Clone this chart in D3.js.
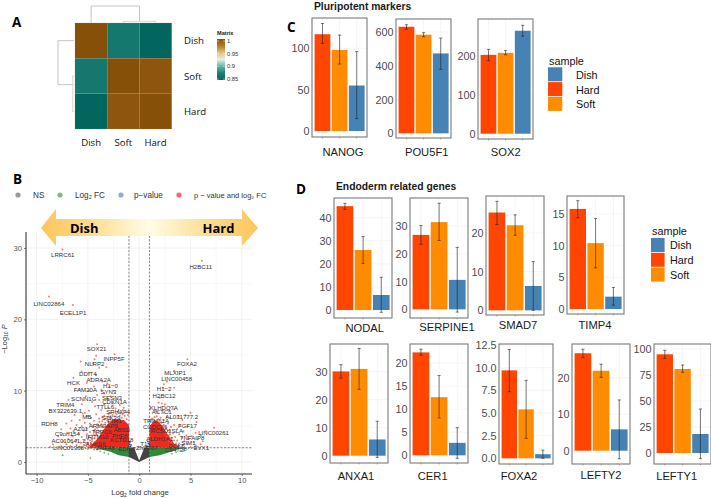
<!DOCTYPE html>
<html><head><meta charset="utf-8">
<style>html,body{margin:0;padding:0;background:#fff}svg{display:block}text{font-family:"Liberation Sans",Arial,sans-serif}</style>
<script src="https://cdnjs.cloudflare.com/ajax/libs/d3/7.8.5/d3.min.js"></script></head><body>
<svg id="c" width="711" height="498"></svg>
<script>
// ---------- DATA ----------
const heatLabels = ["Dish","Soft","Hard"];
const heatMatrix = [[1,0.868,0.85],[0.868,1,0.985],[0.85,0.985,1]];
const heatStops = [0.85,0.875,0.9,0.925,0.95,0.975,1];
const heatTicks = [1,0.95,0.9,0.85];

const samples = ["Hard","Soft","Dish"];
const legendSamples = ["Dish","Hard","Soft"];
const genes = ["NANOG","POU5F1","SOX2","NODAL","SERPINE1","SMAD7","TIMP4","ANXA1","CER1","FOXA2","LEFTY2","LEFTY1"];
const hardMean = [117,631,203,45,26.8,25.3,15.8,30.1,22.3,9.7,26.7,94.9];
const softMean = [98,584,208,26,31.4,22,10.4,31,12.6,5.4,21.9,80.8];
const dishMean = [55,473,265,6.5,10.6,6.3,1.95,5.8,2.7,0.45,5.85,18.3];
const hardLow = [106,616,188,43.6,23.4,22.2,14.4,27.7,21.7,7.35,25.5,91];
const hardHigh = [130,643,217,46.2,30.2,28.2,17.1,32.5,23,12,27.8,98.7];
const softLow = [81,572,203,20.2,24.8,19.4,6.5,23.7,8.1,2.2,20.1,77.6];
const softHigh = [116,596,214,31.8,38.2,24.7,14.3,38.3,17.3,8.6,23.7,84.6];
const dishLow = [15,379,251,-1,-1,0,0.6,-0.6,-0.65,0,-2.2,-5.4];
const dishHigh = [96,564,279,14.2,22.3,12.6,3.4,12.3,6,0.9,13.9,42.3];
const geneTicks = [[0,50,100],[0,200,400,600],[0,100,200],[0,10,20,30,40],[0,10,20,30],[0,10,20],[0,5,10,15],[0,10,20,30],[0,5,10,15,20],[0,2.5,5,7.5,10,12.5],[0,10,20],[0,25,50,75,100]];
const geneTickLabels = [null,null,null,null,null,null,null,null,null,["0.0","2.5","5.0","7.5","10.0","12.5"],null,null];

const volcanoXTicks = [-10,-5,0,5,10];
const volcanoYTicks = [0,10,20,30];
const redPoints = [[-7.47,29.8],[6.1,28.2],[-8.8,23.2],[-6.46,22],
[-4.1,16.5],[-4.2,14.9],[-2.4,15.1],[-5.7,14.1],[-4.35,14.4],[-4.5,13.8],[-3.9,13.2],[-3.2,13.3],[-5.6,12.7],[-4.9,12.5],[-6.4,11.8],[-4.2,12.2],[-4.7,11.7],[-3.6,11.3],[-5.1,11.1],[-3.1,11],[-2.9,10.5],[-4.4,10.6],[-5.8,10.2],[-3.7,10.1],[-2.5,10],[-4.9,10],[-3.4,9.6],[-4.1,9.4],[-2.8,9.2],[-5.2,9.2],[-3.1,8.9],[-3.9,8.7],[-2.2,8.8],[-4.6,8.4],[-2.6,8.2],[-3.4,8.1],[-6.9,8.7],[-5.6,8.1],[-1.9,8],[-4.3,7.8],[-3,7.6],[-2.3,7.5],[-3.7,7.3],[-4.9,7.2],[-1.6,7.3],[-5.3,6.9],[-2.8,6.9],[-6.3,6.6],[-4.2,6.7],[-3.4,6.5],[-5.1,6.4],[-5.5,6.8],[-4.7,6.2],[-3.9,6.1],[-2.9,6.2],[-6.6,5.8],[-5.8,5.9],[-4.4,5.8],[-3.6,5.7],[-7.1,5.4],[-5.3,5.5],[-4.8,5.4],[-4.1,5.3],[-3.3,5.5],[-6.1,5.2],[-5.6,5],[-4.5,5],[-3.9,4.9],[-7.6,4.6],[-6.7,4.7],[-5.1,4.7],[-4.3,4.6],[-6.4,4.3],[-5.4,4.4],[-4.8,4.2],[-3.8,4.3],[-7,4.1],[-5.9,4],[-5.1,3.9],[-4.4,3.8],[-7.9,3.6],[-6.5,3.6],[-5.6,3.5],[-4.9,3.5],[-6.9,3.2],[-6.1,3.1],[-5.3,3.1],[-4.6,3.2],[-7.4,2.9],[-6.5,2.7],[-5.7,2.7],[-5,2.7],[-8.4,2.5],[-7.1,2.5],[-6.1,2.4],[-5.4,2.4],[-4.7,2.5],[-8.7,2.1],[-7.6,2.2],[-6.7,2.2],[-5.8,2.15],[-5.1,2.2],[-4.4,2.2],
[-1.4,6.5],[-1.8,6.8],[-2.1,7],[-2.6,6.6],[-1.2,6],[-3.1,5.8],[-2.4,6.4],[-1.7,6.2],[-3.5,5],[-3,5.6],[-4,4.4],[-3.6,4.9],[-4.2,3.9],[-4.1,3.8],[-4.4,3.3],[-4.8,3],[-5,2.5],
[-1.1,6.6],[-1.3,7],[-1.6,6.7],[-1.9,6.5],[-2.2,6.7],[-2.5,6.9],[-2.8,6.4],[-3.2,6.1],[-3.4,6.0],[-3.7,5.3],[-3.9,5.6],[-4.1,4.8],[-4.3,4.2],[-4.6,3.7],[-4.7,3.4],[-3,6.7],[-2,7.3],[-1.5,7.6],[-3.6,6.3],[-4,5.2],[-3.3,5.2],[-4.4,4.4],[-5,3.2],[-5.2,2.7],[-5.3,2.3],[-4.9,2.2],[-4.6,2.9],[-4.3,2.8],
[4.7,14.4],[3.4,12.8],[2.7,11.3],[2.4,10.9],[2.3,10.4],[3.4,10.4],[2,9],[1.9,8.3],[2.2,8.2],[2.5,8.1],[3,7.6],[3.4,7.4],[2.9,7.1],[1.6,7.2],[1.8,7],[2.4,6.9],[5,6.9],[4.5,6.6],[3.8,6.5],[4.2,5.9],[3,6.2],[2.7,6.3],[5.6,5.6],[4,5.2],[3.4,5.2],[4.7,5],[3.1,4.9],[7.3,4.8],[3.7,4.6],[6.5,4.3],[4.3,4.3],[5.5,4.1],[3,4.4],[2.8,5.4],[3.3,4],[3.9,3.9],[4.6,3.7],[5.1,3.6],[6,3.8],[2.9,3.7],[3.5,3.5],[4.2,3.4],[4.8,3.2],[5.7,3.2],[6.2,2.9],[3,3.2],[3.7,3],[4.4,2.9],[5.3,2.8],[6,2.5],[3.1,2.7],[3.9,2.6],[4.7,2.5],[5.5,2.3],[3.3,2.3],[4.2,2.2],[5,2.1],[2.9,2.4],[2.6,3],[2.6,4.1],[2.4,5.9],[2.1,6.2],[1.5,6.3],[1.2,6],
[1.1,5.7],[1.3,6.1],[1.7,6.4],[1.9,6],[2.2,5.5],[2.4,5.2],[2.6,4.8],[2.8,4.4],[3,3.9],[3.2,3.4],[3.4,3],[3.6,2.6],[3.8,2.3],[2.7,3.6],[2.9,2.9],[3.2,2.9],[3.6,2.1]];
const bluePoints = [[-1,2.2],[-0.95,2.5],[-0.85,2.15],[-0.9,2.8],[-0.8,2.4],[-1,2.9],[0.8,2.2],[0.9,2.6],[0.95,2.2],[0.85,2.9],[1,2.5],[0.75,2.1]];
const greenPoints = [[-7.45,0.95],[-4.75,0.55],[-5.2,1.9],[-5.6,1.95],[-5,1.8],[-4.7,1.9],[-4.4,1.75],[-4.1,1.7],[-3.8,1.5],[-3.4,1.3],[-3,1.1],[-4.9,1.95],[3.6,1.35],[4,1.55],[4.4,1.8],[4.8,1.9],[5.1,1.95],[3.2,1.15],[5.5,1.95]];
const redCoreLeft = [[-1,2],[-1,5.2],[-1.5,5.9],[-2.5,6],[-3.1,5.3],[-3.5,4.5],[-4,3.4],[-4.5,2.6],[-5,2]];
const redCoreRight = [[1,2],[1,5],[1.5,5.9],[2,5.5],[2.5,4.5],[3,3.4],[3.4,2.6],[4,2]];
const greenBandLeft = [[-1,2],[-5,2],[-4,1.85],[-2.8,1.45],[-2,0.95],[-1,0.7]];
const greenBandRight = [[1,2],[4.8,2],[4,1.85],[3,1.4],[2,0.95],[1,0.7]];
const greyWedge = [[-1,2],[-1,0.7],[0,0],[1,0.7],[1,2],[0.5,2],[0,0.2],[-0.5,2]];
const volcanoLabels = [["LRRC61",-7.45,29],["H2BC11",6,27.3],["LINC02864",-8.8,22.2],["ECEL1P1",-6.45,20.9],
["SOX21",-4.15,15.9],["INPP5F",-2.45,14.4],["NLRP2",-4.35,13.7],["DDIT4",-5,12.3],["ADRA2A",-3.95,11.5],["HCK",-6.4,11.1],["H1−0",-2.8,10.6],["FAM20A",-5.25,10.1],["SYN3",-3,9.8],["SCNN1G",-5.4,8.9],["SESN3",-2.65,9],["CDKN1A",-2.4,8.4],["TTLL6",-3.3,7.7],["TRIM4",-7.2,8],["BX322639.1",-7.2,7.2],["SPHAF4",-2.05,6.95],["MB",-5.1,6.25],["STK39",-2.75,6.2],["PIM1",-2.4,5.7],["ARHGAP9",-3.5,5],["AZ01",-5.7,4.6],["RDH8",-8.75,5.3],["C9orf154",-7,3.95],["TRPC6",-3.65,4.2],["ABSD",-1.7,4.5],["PHF8",-1.9,3.6],["IFITM10",-4.1,3.5],["KCTD18",-1.7,3.1],["AC010641.1",-6.9,2.95],["LINC01368",-6.9,2],["ANKS6",-4.25,2.5],["ZNF48",-3.3,1.95],["EDIL3",-1.2,1.85],["ZNF707",0.75,1.9],["T1",0.45,2.5],["ALDH1A1",2,3.2],["FOXA2",4.65,13.8],["MLXIP1",3.5,12.5],["LINC00458",3.65,11.7],["H1−2",2.43,10.3],["H2BC12",2.43,9.2],["KLHDC7A",2.4,7.6],["ACTC1",2.2,7],["AL031777.2",4.15,6.3],["TRIM61A",1.65,5.7],["FGF17",4.7,5],["CCDC86",1.55,4.95],["LINC00261",7.25,4.1],["RCSD1SLA",2.7,4.35],["TNFAIP8",5.15,3.4],["SIM1",4.8,2.7],["EVX1",6.05,2],["DOK5",3.65,2.2],["C9473P",3.6,1.65]];
const volcanoLegend = ["NS","Log₂ FC","p−value","p − value and log₂ FC"];

// ---------- LAYOUT ----------
const svg = d3.select("#c");
const colHard="#ff4500", colSoft="#ff8c00", colDish="#4682b4";
const sampleColor = d3.scaleOrdinal().domain(samples).range([colHard,colSoft,colDish]);
const boxes = [[312,367,18,137],[396,451,19,138],[478,533,19,139],[334,392,198,318],[410,468,198,318],[486,544,196,315],[567,624,196,314],[330,388,344,463],[410,468,344,463],[499,553,344,464],[572,630,344,464],[654,711,344,464]];
// [pixel of zero, value of reference tick, pixel of reference tick]
const yRefs = [[131,100,48.3],[133.3,600,32],[133.7,200,56],[310,40,217.7],[309.3,30,226],[310.3,20,233],[309,15,214],[455.7,30,371.7],[455.3,20,363],[458.3,12.5,345],[450.7,20,377.7],[453,100,349]];
const labelX = [343,426.7,505.7,364.7,447,518,595,356,432.7,519,601,676.7];
const labelY = [155.5,155.5,155.5,331.5,330.5,329,329,480,480,480,479,480];

// ---------- HEATMAP ----------
const hmX = d3.scaleBand().domain(heatLabels).range([75,171.7]);
const hmY = d3.scaleBand().domain(heatLabels).range([23,129]);
const hmColor = d3.scaleLinear().domain(heatStops).range(["#01665e","#1c7f75","#5fb3a8","#e8f1e8","#dfc27d","#b27a25","#8c510a"]);
const hmColorCell = v => v>=0.98? d3.interpolateRgb("#8f5710","#875009")((v-0.98)/0.02) : hmColor(v);
heatLabels.forEach((r,i)=>heatLabels.forEach((c,j)=>{
  svg.append("rect").attr("x",hmX(c)).attr("y",hmY(r)).attr("width",hmX.bandwidth()).attr("height",hmY.bandwidth())
    .attr("fill",hmColorCell(heatMatrix[i][j])).attr("stroke","#a08a68").attr("stroke-opacity",.35).attr("stroke-width",.6);
}));
heatLabels.forEach(l=>{
  svg.append("text").attr("x",184).attr("y",hmY(l)+hmY.bandwidth()/2+3.5).text(l).style("font-family","'Open Sans'").style("font-size","9.6px").attr("fill","#111");
  svg.append("text").attr("x",hmX(l)+hmX.bandwidth()/2).attr("y",146).attr("text-anchor","middle").text(l).style("font-family","'Open Sans'").style("font-size","9.6px").attr("fill","#111");
});
const dendro = d3.scaleLinear().domain([0,1]).range([23,6]);
const dendroL = d3.scaleLinear().domain([0,1]).range([74,58]);
const cx = l=>hmX(l)+hmX.bandwidth()/2, cy = l=>hmY(l)+hmY.bandwidth()/2;
const dn = svg.append("g").attr("fill","none").attr("stroke","#c4c4c4").attr("stroke-width",1);
dn.append("path").attr("d",`M${cx("Dish")},${dendro(0)}V${dendro(1)}H${(cx("Soft")+cx("Hard"))/2}V${dendro(.1)}`);
dn.append("path").attr("stroke","#dcdcdc").attr("stroke-width",1.2).attr("d",`M${cx("Soft")},${dendro(0)}V${dendro(.1)}H${cx("Hard")}V${dendro(0)}`);
dn.append("path").attr("d",`M${dendroL(0)},${cy("Dish")}H${dendroL(1)}V${(cy("Soft")+cy("Hard"))/2-9}H${dendroL(0)}`);
dn.append("path").attr("stroke","#dcdcdc").attr("stroke-width",1.2).attr("d",`M${dendroL(0)},${cy("Soft")}H${dendroL(.08)}V${cy("Hard")}H${dendroL(0)}`);
// colour bar
const defs = svg.append("defs");
const grad = defs.append("linearGradient").attr("id","hmg").attr("x1",0).attr("x2",0).attr("y1",1).attr("y2",0);
heatStops.forEach(v=>grad.append("stop").attr("offset",(v-.85)/.15).attr("stop-color",hmColor(v)));
svg.append("rect").attr("x",217).attr("y",39).attr("width",8).attr("height",41).attr("fill","url(#hmg)");
svg.append("text").attr("x",217).attr("y",35).text("Matrix").style("font-size","5.6px").style("font-weight","bold").attr("fill","#222");
const hmLeg = d3.scaleLinear().domain([.85,1]).range([79,41]);
heatTicks.forEach(t=>{
  svg.append("text").attr("x",227).attr("y",hmLeg(t)+2).text(t).style("font-size","5.8px").attr("fill","#333");
  svg.append("line").attr("x1",217).attr("x2",219).attr("y1",hmLeg(t)).attr("y2",hmLeg(t)).attr("stroke","#fff").attr("stroke-width",.5);
  svg.append("line").attr("x1",223).attr("x2",225).attr("y1",hmLeg(t)).attr("y2",hmLeg(t)).attr("stroke","#fff").attr("stroke-width",.5);
});

// ---------- PANEL LETTERS / TITLES ----------
[["A",12,27],["B",13,184],["C",287,32],["D",296,194]].forEach(([t,x,y])=>
  svg.append("text").attr("x",x).attr("y",y).text(t).style("font-family","'Open Sans'").style("font-weight","bold").style("font-size","13.5px").attr("fill","#000"));
svg.append("text").attr("x",314).attr("y",9.5).text("Pluripotent markers").style("font-weight","bold").style("font-size","10.3px").attr("fill","#1a1a1a");
svg.append("text").attr("x",336).attr("y",190).text("Endoderm related genes").style("font-weight","bold").style("font-size","10.3px").attr("fill","#1a1a1a");

// ---------- BAR PANELS ----------
genes.forEach((g,i)=>{
  const [x0,x1,y0,y1] = boxes[i], [z,rv,rp] = yRefs[i];
  const x = d3.scaleBand().domain(samples).range([x0+2.6,x1-2.4]).paddingInner(.08).paddingOuter(0);
  const y = d3.scaleLinear().domain([0,rv]).range([z,rp]);
  const p = svg.append("g");
  geneTicks[i].forEach(t=>{ if(y(t)>y0&&y(t)<y1) p.append("line").attr("x1",x0).attr("x2",x1).attr("y1",y(t)).attr("y2",y(t)).attr("stroke","#f0f0f0").attr("stroke-width",.7); });
  samples.forEach(s=>p.append("line").attr("x1",x(s)+x.bandwidth()/2).attr("x2",x(s)+x.bandwidth()/2).attr("y1",y0).attr("y2",y1).attr("stroke","#f0f0f0").attr("stroke-width",.7));
  const means=[hardMean[i],softMean[i],dishMean[i]], lows=[hardLow[i],softLow[i],dishLow[i]], highs=[hardHigh[i],softHigh[i],dishHigh[i]];
  p.selectAll(".bar").data(samples).join("rect").attr("x",s=>x(s)).attr("width",x.bandwidth())
    .attr("y",(s,k)=>y(means[k])).attr("height",(s,k)=>y(0)-y(means[k])).attr("fill",s=>sampleColor(s));
  samples.forEach((s,k)=>{
    const c=x(s)+x.bandwidth()/2, e=p.append("g").attr("stroke","#222").attr("stroke-opacity",.75).attr("stroke-width",.8);
    e.append("line").attr("x1",c).attr("x2",c).attr("y1",y(lows[k])).attr("y2",y(highs[k]));
    [lows[k],highs[k]].forEach(v=>e.append("line").attr("x1",c-1.6).attr("x2",c+1.6).attr("y1",y(v)).attr("y2",y(v)));
  });
  p.append("rect").attr("x",x0).attr("y",y0).attr("width",x1-x0).attr("height",y1-y0).attr("fill","none").attr("stroke","#7a7a7a").attr("stroke-width",1.1);
  const yAxis = d3.axisLeft(y).tickValues(geneTicks[i]).tickSize(0).tickPadding(2.5)
    .tickFormat((d,k)=>geneTickLabels[i]?geneTickLabels[i][k]:d);
  const ag = svg.append("g").attr("transform",`translate(${x0},0)`).call(yAxis);
  ag.select(".domain").remove();
  ag.selectAll("text").style("font-size","10.8px").attr("fill","#4d4d4d");
  samples.forEach(s=>p.append("line").attr("x1",x(s)+x.bandwidth()/2).attr("x2",x(s)+x.bandwidth()/2).attr("y1",y1).attr("y2",y1+1.5).attr("stroke","#666").attr("stroke-width",.5));
  svg.append("text").attr("x",labelX[i]).attr("y",labelY[i]).attr("text-anchor","middle").text(g).style("font-size","11.2px").attr("fill","#1a1a1a");
});

// ---------- BAR LEGENDS ----------
function barLegend(tx,ty,sw,swh,lx,title){
  svg.append("text").attr("x",tx).attr("y",ty).text(title).style("font-size","10.8px").attr("fill","#111");
  legendSamples.forEach((s,k)=>{
    svg.append("rect").attr("x",sw[0]).attr("y",sw[1]+k*swh).attr("width",sw[2]).attr("height",swh-.8).attr("fill",sampleColor(s));
    svg.append("text").attr("x",lx).attr("y",sw[1]+k*swh+swh/2+4).text(s).style("font-size","10.8px").attr("fill","#111");
  });
}
barLegend(549,65,[548,67.3,14.3],14.8,576,"sample");
barLegend(652,235,[651,238,13.6],14.8,670,"sample");

// ---------- VOLCANO ----------
const vx = d3.scaleLinear().domain([-10,10]).range([36.6,241.8]);
const vy = d3.scaleLinear().domain([0,30]).range([462,248]);
const plotL=26, plotR=252, plotT=232, plotB=474;
const vg = svg.append("g");
d3.range(-12.5,12.6,2.5).forEach(t=>{const px=vx(t); if(px>plotL&&px<plotR) vg.append("line").attr("x1",px).attr("x2",px).attr("y1",plotT).attr("y2",plotB).attr("stroke","#f0f0f0").attr("stroke-width",t%5===0?.9:.5);});
d3.range(0,31,5).forEach(t=>vg.append("line").attr("x1",plotL).attr("x2",plotR).attr("y1",vy(t)).attr("y2",vy(t)).attr("stroke","#f0f0f0").attr("stroke-width",t%10===0?.9:.5));
const area = d3.line().x(d=>vx(d[0])).y(d=>vy(d[1])).curve(d3.curveLinearClosed);
vg.append("path").attr("d",area(greenBandLeft)).attr("fill","#2f8a3c");
vg.append("path").attr("d",area(greenBandRight)).attr("fill","#2f8a3c");
vg.append("path").attr("d",area(greyWedge)).attr("fill","#444");
vg.append("path").attr("d",area(redCoreLeft)).attr("fill","#ee2a1e");
vg.append("path").attr("d",area(redCoreRight)).attr("fill","#ee2a1e");
vg.selectAll(".g").data(greenPoints).join("circle").attr("cx",d=>vx(d[0])).attr("cy",d=>vy(d[1])).attr("r",.9).attr("fill","#3f9a4c").attr("fill-opacity",.7);
vg.selectAll(".b").data(bluePoints).join("circle").attr("cx",d=>vx(d[0])).attr("cy",d=>vy(d[1])).attr("r",.9).attr("fill","#33418f");
vg.selectAll(".r").data(redPoints).join("circle").attr("cx",d=>vx(d[0])).attr("cy",d=>vy(d[1])).attr("r",1).attr("fill","#f4553a").attr("fill-opacity",.75);
// thresholds
[-1,1].forEach(t=>vg.append("line").attr("x1",vx(t)).attr("x2",vx(t)).attr("y1",plotT).attr("y2",plotB).attr("stroke","#333").attr("stroke-width",.6).attr("stroke-dasharray","2.2,1.4"));
vg.append("line").attr("x1",plotL).attr("x2",plotR).attr("y1",vy(2)).attr("y2",vy(2)).attr("stroke","#333").attr("stroke-width",.6).attr("stroke-dasharray","2.2,1.4");
// labels
vg.selectAll(".l").data(volcanoLabels).join("text").attr("x",d=>vx(d[1])).attr("y",d=>vy(d[2])+2).attr("text-anchor","middle").text(d=>d[0]).style("font-size","6.1px").attr("fill","#333");
// axes
const ax = svg.append("g").attr("transform",`translate(0,${plotB})`).call(d3.axisBottom(vx).tickValues(volcanoXTicks).tickSize(2).tickPadding(2).tickFormat(d=>d<0?"−"+(-d):d));
const ay = svg.append("g").attr("transform",`translate(${plotL},0)`).call(d3.axisLeft(vy).tickValues(volcanoYTicks).tickSize(2).tickPadding(2));
[ax,ay].forEach(a=>{a.selectAll("text").style("font-size","7.6px").attr("fill","#555");a.selectAll(".tick line").attr("stroke","#333").attr("stroke-width",.6);});
ax.select(".domain").attr("d",`M${plotL},0H${plotR}`).attr("stroke","#333").attr("stroke-width",1.1);
ay.select(".domain").attr("d",`M0,${plotT}V${plotB}`).attr("stroke","#333").attr("stroke-width",1.1);
const xt = svg.append("text").attr("x",140).attr("y",495).attr("text-anchor","middle").style("font-size","7.7px").attr("fill","#333");
xt.append("tspan").text("Log");xt.append("tspan").text("2").attr("dy",1.5).style("font-size","5px");xt.append("tspan").text(" fold change").attr("dy",-1.5);
const yt = svg.append("text").attr("transform","translate(6.5,339) rotate(-90)").attr("text-anchor","middle").style("font-size","7.4px").attr("fill","#333");
yt.append("tspan").text("−Log");yt.append("tspan").text("10").attr("dy",1.5).style("font-size","5px");yt.append("tspan").text(" ").attr("dy",-1.5);yt.append("tspan").text("P").style("font-style","italic");
// legend
const legDots=["#9a9a9a","#7dbd85","#96a8dc","#ee6b6b"], legDotX=[18,60,121,179], legTextX=[33,75,134,194], legSize=[8.2,8.2,8.2,7.5];
volcanoLegend.forEach((t,k)=>{
  svg.append("circle").attr("cx",legDotX[k]).attr("cy",195).attr("r",2.6).attr("fill",legDots[k]);
  svg.append("text").attr("x",legTextX[k]).attr("y",198).text(t).style("font-size",legSize[k]+"px").attr("fill","#333");
});
// arrow
const ag2 = defs.append("linearGradient").attr("id","arr");
[[0,"#fbc55c"],[.2,"#fdd986"],[.5,"#fffde6"],[.8,"#fdd986"],[1,"#fbc55c"]].forEach(s=>ag2.append("stop").attr("offset",s[0]).attr("stop-color",s[1]));
svg.append("polygon").attr("points","41,228 56,209 56,219 242,219 242,209 258,228 242,246 242,236 56,236 56,246").attr("fill","url(#arr)");
svg.append("text").attr("x",70).attr("y",233).text("Dish").style("font-family","'Open Sans'").style("font-weight","bold").style("font-size","13px").attr("fill","#000");
svg.append("text").attr("x",202.5).attr("y",233).text("Hard").style("font-family","'Open Sans'").style("font-weight","bold").style("font-size","13px").attr("fill","#000");
</script></body></html>
